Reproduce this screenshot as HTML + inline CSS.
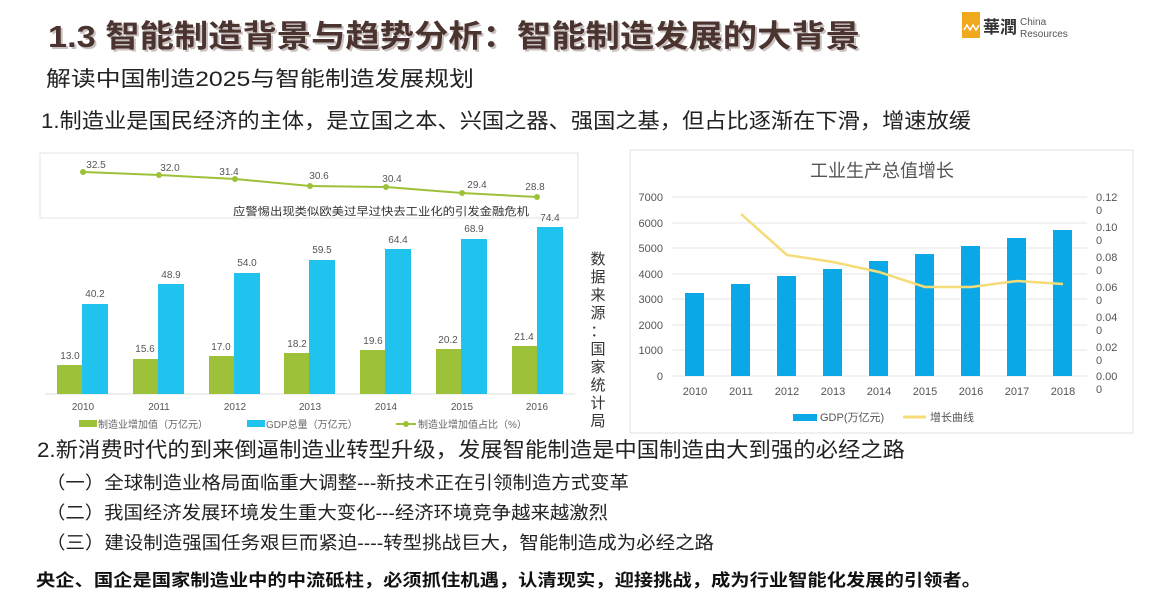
<!DOCTYPE html>
<html><head><meta charset="utf-8"><style>
html,body{margin:0;padding:0;background:#fff;}
svg{display:block;}
text{font-family:"Liberation Sans","Noto Sans CJK SC",sans-serif;}
</style></head><body>
<svg width="1170" height="596" viewBox="0 0 1170 596" xmlns="http://www.w3.org/2000/svg">
<rect width="1170" height="596" fill="#fff"/>
<!-- Title -->
<text x="50" y="49" font-size="31" font-weight="bold" fill="#c9c2c0" textLength="812" lengthAdjust="spacingAndGlyphs">1.3 智能制造背景与趋势分析：智能制造发展的大背景</text>
<text x="48" y="47" font-size="31" font-weight="bold" fill="#4b3430" textLength="812" lengthAdjust="spacingAndGlyphs">1.3 智能制造背景与趋势分析：智能制造发展的大背景</text>
<!-- Logo -->
<rect x="962" y="12" width="18" height="26" fill="#f0a81c"/>
<polyline points="964,30 967,25 970,30 973,25 976,30 979,25" fill="none" stroke="#fff" stroke-width="1.5"/>
<text x="983" y="33" font-size="17" fill="#333" font-weight="bold">華潤</text>
<text x="1020" y="25" font-size="10" fill="#555">China</text>
<text x="1020" y="37" font-size="10" fill="#555">Resources</text>
<!-- Subtitles -->
<text x="46" y="86" font-size="21" fill="#222" textLength="428" lengthAdjust="spacingAndGlyphs">解读中国制造2025与智能制造发展规划</text>
<text x="41" y="128" font-size="21" fill="#222" textLength="930" lengthAdjust="spacingAndGlyphs">1.制造业是国民经济的主体，是立国之本、兴国之器、强国之基，但占比逐渐在下滑，增速放缓</text>

<!-- Left chart -->
<rect x="40" y="153" width="538" height="65" fill="#fff" stroke="#e3e3e3" stroke-width="1"/>
<polyline points="83,172 159,175 235,179 310,186 386,187 462,193 537,197" fill="none" stroke="#9dc23a" stroke-width="2"/>
<g fill="#9dc23a"><circle cx="83" cy="172" r="3"/><circle cx="159" cy="175" r="3"/><circle cx="235" cy="179" r="3"/><circle cx="310" cy="186" r="3"/><circle cx="386" cy="187" r="3"/><circle cx="462" cy="193" r="3"/><circle cx="537" cy="197" r="3"/></g>
<g font-size="10" fill="#555" text-anchor="middle">
<text x="96" y="168">32.5</text><text x="170" y="171">32.0</text><text x="229" y="175">31.4</text><text x="319" y="179">30.6</text><text x="392" y="182">30.4</text><text x="477" y="188">29.4</text><text x="535" y="190">28.8</text>
</g>
<text x="233" y="215" font-size="11" fill="#333" textLength="296" lengthAdjust="spacingAndGlyphs">应警惕出现类似欧美过早过快去工业化的引发金融危机</text>
<line x1="45" y1="394" x2="575" y2="394" stroke="#ddd"/>
<g fill="#9dc23a">
<rect x="57" y="365" width="25" height="29"/><rect x="133" y="359" width="25" height="35"/><rect x="209" y="356" width="25" height="38"/><rect x="284" y="353" width="25" height="41"/><rect x="360" y="350" width="25" height="44"/><rect x="436" y="349" width="25" height="45"/><rect x="512" y="346" width="25" height="48"/>
</g>
<g fill="#1fc3ee">
<rect x="82" y="304" width="26" height="90"/><rect x="158" y="284" width="26" height="110"/><rect x="234" y="273" width="26" height="121"/><rect x="309" y="260" width="26" height="134"/><rect x="385" y="249" width="26" height="145"/><rect x="461" y="239" width="26" height="155"/><rect x="537" y="227" width="26" height="167"/>
</g>
<g font-size="10" fill="#555" text-anchor="middle">
<text x="70" y="359">13.0</text><text x="145" y="352">15.6</text><text x="221" y="350">17.0</text><text x="297" y="347">18.2</text><text x="373" y="344">19.6</text><text x="448" y="343">20.2</text><text x="524" y="340">21.4</text>
<text x="95" y="297">40.2</text><text x="171" y="278">48.9</text><text x="247" y="266">54.0</text><text x="322" y="253">59.5</text><text x="398" y="243">64.4</text><text x="474" y="232">68.9</text><text x="550" y="221">74.4</text>
<text x="83" y="410">2010</text><text x="159" y="410">2011</text><text x="235" y="410">2012</text><text x="310" y="410">2013</text><text x="386" y="410">2014</text><text x="462" y="410">2015</text><text x="537" y="410">2016</text>
</g>
<rect x="79" y="420" width="18" height="7" fill="#9dc23a"/>
<text x="98" y="428" font-size="10" fill="#666">制造业增加值（万亿元）</text>
<rect x="247" y="420" width="18" height="7" fill="#1fc3ee"/>
<text x="266" y="428" font-size="10" fill="#666">GDP总量（万亿元）</text>
<line x1="396" y1="424" x2="416" y2="424" stroke="#9dc23a" stroke-width="2"/><circle cx="406" cy="424" r="3" fill="#9dc23a"/>
<text x="418" y="428" font-size="10" fill="#666">制造业增加值占比（%）</text>
<g font-size="15" fill="#333" text-anchor="middle">
<text x="598" y="264">数</text><text x="598" y="282">据</text><text x="598" y="300">来</text><text x="598" y="318">源</text><text x="598" y="336">：</text><text x="598" y="354">国</text><text x="598" y="372">家</text><text x="598" y="390">统</text><text x="598" y="408">计</text><text x="598" y="426">局</text>
</g>

<!-- Right chart -->
<rect x="630" y="150" width="503" height="283" fill="#fff" stroke="#e0e0e0"/>
<text x="882" y="177" font-size="18" fill="#555" text-anchor="middle">工业生产总值增长</text>
<g stroke="#e6e6e6" stroke-width="1">
<line x1="672" y1="197" x2="1087" y2="197"/><line x1="672" y1="223" x2="1087" y2="223"/><line x1="672" y1="248" x2="1087" y2="248"/><line x1="672" y1="274" x2="1087" y2="274"/><line x1="672" y1="299" x2="1087" y2="299"/><line x1="672" y1="325" x2="1087" y2="325"/><line x1="672" y1="350" x2="1087" y2="350"/><line x1="672" y1="376" x2="1087" y2="376"/>
</g>
<g font-size="11" fill="#555" text-anchor="end">
<text x="663" y="201">7000</text><text x="663" y="227">6000</text><text x="663" y="252">5000</text><text x="663" y="278">4000</text><text x="663" y="303">3000</text><text x="663" y="329">2000</text><text x="663" y="354">1000</text><text x="663" y="380">0</text>
</g>
<g font-size="11" fill="#555">
<text x="1096" y="201">0.12</text><text x="1096" y="214">0</text>
<text x="1096" y="231">0.10</text><text x="1096" y="244">0</text>
<text x="1096" y="261">0.08</text><text x="1096" y="274">0</text>
<text x="1096" y="291">0.06</text><text x="1096" y="304">0</text>
<text x="1096" y="321">0.04</text><text x="1096" y="334">0</text>
<text x="1096" y="351">0.02</text><text x="1096" y="364">0</text>
<text x="1096" y="380">0.00</text><text x="1096" y="393">0</text>
</g>
<g fill="#0aa8e6">
<rect x="685" y="293" width="19" height="83"/><rect x="731" y="284" width="19" height="92"/><rect x="777" y="276" width="19" height="100"/><rect x="823" y="269" width="19" height="107"/><rect x="869" y="261" width="19" height="115"/><rect x="915" y="254" width="19" height="122"/><rect x="961" y="246" width="19" height="130"/><rect x="1007" y="238" width="19" height="138"/><rect x="1053" y="230" width="19" height="146"/>
</g>
<polyline points="741,214 787,255 833,262 879,272 925,287 971,287 1017,281 1063,284" fill="none" stroke="#f5dc78" stroke-width="2.5"/>
<g font-size="11" fill="#555" text-anchor="middle">
<text x="695" y="395">2010</text><text x="741" y="395">2011</text><text x="787" y="395">2012</text><text x="833" y="395">2013</text><text x="879" y="395">2014</text><text x="925" y="395">2015</text><text x="971" y="395">2016</text><text x="1017" y="395">2017</text><text x="1063" y="395">2018</text>
</g>
<rect x="793" y="414" width="24" height="7" fill="#0aa8e6"/>
<text x="820" y="421" font-size="11" fill="#555">GDP(万亿元)</text>
<line x1="903" y1="417" x2="926" y2="417" stroke="#f5dc78" stroke-width="3"/>
<text x="930" y="421" font-size="11" fill="#555">增长曲线</text>

<!-- Bottom text -->
<text x="37" y="457" font-size="21" fill="#222" textLength="868" lengthAdjust="spacingAndGlyphs">2.新消费时代的到来倒逼制造业转型升级，发展智能制造是中国制造由大到强的必经之路</text>
<text x="46" y="489" font-size="18" fill="#222" textLength="583" lengthAdjust="spacingAndGlyphs">（一）全球制造业格局面临重大调整---新技术正在引领制造方式变革</text>
<text x="46" y="519" font-size="18" fill="#222" textLength="562" lengthAdjust="spacingAndGlyphs">（二）我国经济发展环境发生重大变化---经济环境竞争越来越激烈</text>
<text x="46" y="549" font-size="18" fill="#222" textLength="668" lengthAdjust="spacingAndGlyphs">（三）建设制造强国任务艰巨而紧迫----转型挑战巨大，智能制造成为必经之路</text>
<text x="36" y="586" font-size="17" font-weight="bold" fill="#111" textLength="945" lengthAdjust="spacingAndGlyphs">央企、国企是国家制造业中的中流砥柱，必须抓住机遇，认清现实，迎接挑战，成为行业智能化发展的引领者。</text>
</svg>
</body></html>
